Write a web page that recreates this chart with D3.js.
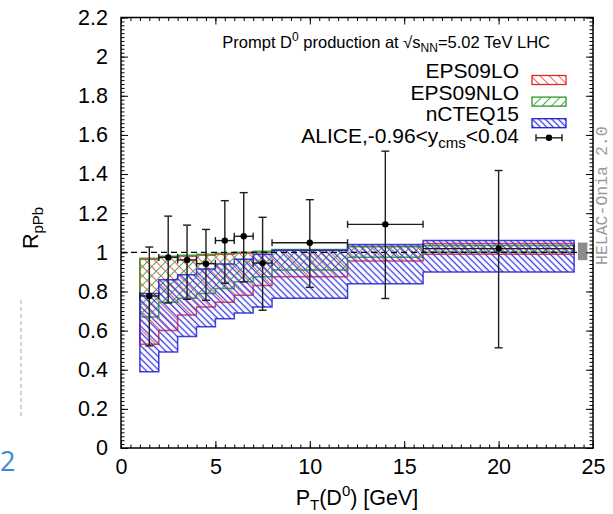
<!DOCTYPE html>
<html>
  <head>
    <meta charset="utf-8" />
    <title>RpPb prompt D0</title>
    <style>
      body {
        margin: 0;
        background: #fff;
      }
      svg text {
        font-family: "Liberation Sans", Arial, Helvetica, sans-serif;
        fill: #000;
      }
      .tick line {
        stroke: #000;
        stroke-width: 1;
      }
    </style>
  </head>
  <body>
    <div id="chart"></div>

    <script src="https://d3js.org/d3.v7.min.js"></script>
    <script>
      // theory histogram bin edges (GeV)
      var binEdges = [1, 2, 3, 4, 5, 6, 7, 8, 12, 16, 24];

      // EPS09LO band
      var eps09loLow = [0.53, 0.6, 0.68, 0.72, 0.745, 0.78, 0.83, 0.875, 0.955, 0.99];
      var eps09loHigh = [0.965, 0.975, 0.98, 0.985, 0.99, 0.995, 1.0, 1.01, 1.03, 1.045];

      // EPS09NLO band
      var eps09nloLow = [0.67, 0.745, 0.765, 0.79, 0.815, 0.85, 0.875, 0.91, 0.975, 1.0];
      var eps09nloHigh = [0.97, 0.98, 0.985, 0.99, 0.995, 1.0, 1.005, 1.015, 1.03, 1.035];

      // nCTEQ15 band
      var ncteqLow = [0.39, 0.49, 0.57, 0.62, 0.66, 0.69, 0.72, 0.765, 0.84, 0.9];
      var ncteqHigh = [0.79, 0.86, 0.885, 0.915, 0.94, 0.965, 0.99, 1.01, 1.04, 1.06];

      // ALICE data, -0.96<y<0.04
      var alicePt = [1.5, 2.5, 3.5, 4.5, 5.5, 6.5, 7.5, 10, 14, 20];
      var alicePtErr = [0.5, 0.5, 0.5, 0.5, 0.5, 0.5, 0.5, 2, 2, 4];
      var aliceR = [0.777, 0.974, 0.961, 0.942, 1.06, 1.082, 0.945, 1.049, 1.143, 1.019];
      var aliceUp = [1.027, 1.185, 1.139, 1.117, 1.264, 1.305, 1.179, 1.269, 1.517, 1.418];
      var aliceDown = [0.522, 0.741, 0.76, 0.755, 0.842, 0.849, 0.704, 0.821, 0.764, 0.512];

      // normalisation uncertainty box near pt=24.5
      var normBox = { x0: 24.2, x1: 24.7, lo: 0.96, hi: 1.05 };

      var xTicks = [0, 5, 10, 15, 20, 25];
      var yTicks = [0, 0.2, 0.4, 0.6, 0.8, 1, 1.2, 1.4, 1.6, 1.8, 2, 2.2];
      var legendNames = ["EPS09LO", "EPS09NLO", "nCTEQ15"];
      var legendColors = ["#e02828", "#2a9a2a", "#2020d8"];

      var W = 613,
        H = 514;
      var pLeft = 121,
        pRight = 593,
        pTop = 17.5,
        pBottom = 448;

      var x = d3.scaleLinear().domain([0, 25]).range([pLeft, pRight]);
      var y = d3.scaleLinear().domain([0, 2.2]).range([pBottom, pTop]);

      var svg = d3
        .select("#chart")
        .append("svg")
        .attr("width", W)
        .attr("height", H);

      // hatch patterns
      var defs = svg.append("defs");
      function hatch(id, color, gap, angle, sw) {
        var p = defs
          .append("pattern")
          .attr("id", id)
          .attr("patternUnits", "userSpaceOnUse")
          .attr("width", gap)
          .attr("height", gap)
          .attr("patternTransform", "rotate(" + angle + ")");
        p.append("line")
          .attr("x1", gap / 2)
          .attr("y1", -1)
          .attr("x2", gap / 2)
          .attr("y2", gap + 1)
          .attr("stroke", color)
          .attr("stroke-width", sw);
      }
      hatch("hLO", "#e85a5a", 6.5, -45, 1);
      hatch("hNLO", "#4aa84a", 6.5, 45, 1);
      hatch("hCT", "#3a3ae0", 4.6, -45, 1.3);
      var fills = ["url(#hLO)", "url(#hNLO)", "url(#hCT)"];

      // left margin leftovers
      svg
        .append("line")
        .attr("x1", 21)
        .attr("x2", 21)
        .attr("y1", 300)
        .attr("y2", 418)
        .attr("stroke", "#c8a0a0")
        .attr("stroke-width", 1)
        .attr("stroke-dasharray", "4,3");
      svg
        .append("text")
        .attr("x", 0)
        .attr("y", 471)
        .style("font-family", "'Open Sans', sans-serif")
        .style("font-size", "27px")
        .style("fill", "#3b8ad2")
        .text("2");

      // bands
      var line = d3
        .line()
        .x((d) => x(d[0]))
        .y((d) => y(d[1]));

      function bandPoints(lo, hi) {
        var pts = [];
        for (var i = 0; i < hi.length; i++) {
          pts.push([binEdges[i], hi[i]]);
          pts.push([binEdges[i + 1], hi[i]]);
        }
        for (var j = lo.length - 1; j >= 0; j--) {
          pts.push([binEdges[j + 1], lo[j]]);
          pts.push([binEdges[j], lo[j]]);
        }
        return pts;
      }

      var bands = [
        [eps09loLow, eps09loHigh],
        [eps09nloLow, eps09nloHigh],
        [ncteqLow, ncteqHigh],
      ];

      bands.forEach(function (b, i) {
        svg
          .append("path")
          .attr("d", line(bandPoints(b[0], b[1])) + "Z")
          .attr("fill", fills[i])
          .attr("stroke", legendColors[i])
          .attr("stroke-width", 1.5)
          .attr("stroke-opacity", 0.85);
      });

      // dashed line at 1
      svg
        .append("line")
        .attr("x1", x(0))
        .attr("x2", x(25))
        .attr("y1", y(1))
        .attr("y2", y(1))
        .attr("stroke", "#000")
        .attr("stroke-width", 1.2)
        .attr("stroke-dasharray", "6,4");

      // normalisation box
      svg
        .append("rect")
        .attr("x", x(normBox.x0))
        .attr("y", y(normBox.hi))
        .attr("width", x(normBox.x1) - x(normBox.x0))
        .attr("height", y(normBox.lo) - y(normBox.hi))
        .attr("fill", "#8c8c8c");

      // ALICE points
      var alice = alicePt.map(function (d, i) {
        return {
          pt: d,
          ex: alicePtErr[i],
          r: aliceR[i],
          up: aliceUp[i],
          down: aliceDown[i],
        };
      });

      var eb = svg
        .append("g")
        .attr("stroke", "#1e1e1e")
        .attr("stroke-width", 1.4);
      alice.forEach(function (d) {
        var cx = x(d.pt),
          cy = y(d.r);
        eb.append("line").attr("x1", cx).attr("x2", cx).attr("y1", y(d.up)).attr("y2", y(d.down));
        eb.append("line").attr("x1", cx - 4).attr("x2", cx + 4).attr("y1", y(d.up)).attr("y2", y(d.up));
        eb.append("line").attr("x1", cx - 4).attr("x2", cx + 4).attr("y1", y(d.down)).attr("y2", y(d.down));
        var x0 = x(d.pt - d.ex),
          x1 = x(d.pt + d.ex);
        eb.append("line").attr("x1", x0).attr("x2", x1).attr("y1", cy).attr("y2", cy);
        eb.append("line").attr("x1", x0).attr("x2", x0).attr("y1", cy - 3.5).attr("y2", cy + 3.5);
        eb.append("line").attr("x1", x1).attr("x2", x1).attr("y1", cy - 3.5).attr("y2", cy + 3.5);
      });
      svg
        .selectAll(".pt")
        .data(alice)
        .enter()
        .append("circle")
        .attr("class", "pt")
        .attr("cx", (d) => x(d.pt))
        .attr("cy", (d) => y(d.r))
        .attr("r", 3.2)
        .attr("fill", "#000");

      // axes: major + minor ticks on all four sides, inward
      var xMinor = d3.range(0, 25.01, 0.5);
      var yMinor = d3.range(0, 2.201, 0.02);

      function addAxis(axisFn, scale, pos, vals, size, fmt, cls) {
        var a = axisFn(scale).tickValues(vals).tickSize(-size);
        if (fmt) a.tickFormat(fmt).tickPadding(cls === "x" ? 11 : 13);
        else a.tickFormat("");
        var g = svg.append("g").attr("transform", pos).call(a);
        g.select(".domain").remove();
        return g;
      }

      addAxis(d3.axisBottom, x, "translate(0," + pBottom + ")", xMinor, 3.5, null);
      addAxis(d3.axisTop, x, "translate(0," + pTop + ")", xMinor, 3.5, null);
      addAxis(d3.axisLeft, y, "translate(" + pLeft + ",0)", yMinor, 3.5, null);
      addAxis(d3.axisRight, y, "translate(" + pRight + ",0)", yMinor, 3.5, null);
      addAxis(d3.axisTop, x, "translate(0," + pTop + ")", xTicks, 7, null);
      addAxis(d3.axisRight, y, "translate(" + pRight + ",0)", yTicks, 7, null);

      var gx = addAxis(d3.axisBottom, x, "translate(0," + pBottom + ")", xTicks, 7, d3.format("d"), "x");
      var gy = addAxis(d3.axisLeft, y, "translate(" + pLeft + ",0)", yTicks, 7, (d) => String(+d.toFixed(1)), "y");
      gx.selectAll("text").style("font-size", "21.5px").style("font-family", "'Liberation Sans', Arial, sans-serif").attr("fill", "#000");
      gy.selectAll("text").style("font-size", "21.5px").style("font-family", "'Liberation Sans', Arial, sans-serif").attr("fill", "#000");

      // frame
      svg
        .append("rect")
        .attr("x", pLeft)
        .attr("y", pTop)
        .attr("width", pRight - pLeft)
        .attr("height", pBottom - pTop)
        .attr("fill", "none")
        .attr("stroke", "#000")
        .attr("stroke-width", 1.5);

      // axis titles
      var xl = svg
        .append("text")
        .attr("x", (pLeft + pRight) / 2)
        .attr("y", 505)
        .attr("text-anchor", "middle")
        .style("font-size", "21.5px");
      xl.append("tspan").text("P");
      xl.append("tspan").attr("dy", 5).style("font-size", "15px").text("T");
      xl.append("tspan").attr("dy", -5).text("(D");
      xl.append("tspan").attr("dy", -9).style("font-size", "15px").text("0");
      xl.append("tspan").attr("dy", 9).text(") [GeV]");

      var yl = svg
        .append("text")
        .attr("transform", "translate(38,228) rotate(-90)")
        .attr("text-anchor", "middle")
        .style("font-size", "21.5px");
      yl.append("tspan").text("R");
      yl.append("tspan").attr("dy", 5).style("font-size", "15px").text("pPb");

      // title inside the frame
      var tt = svg
        .append("text")
        .attr("x", 550)
        .attr("y", 48)
        .attr("text-anchor", "end")
        .style("font-size", "16.5px");
      tt.append("tspan").text("Prompt D");
      tt.append("tspan").attr("dy", -7).style("font-size", "12px").text("0");
      tt.append("tspan").attr("dy", 7).text(" production at \u221As");
      tt.append("tspan").attr("dy", 4).style("font-size", "12px").text("NN");
      tt.append("tspan").attr("dy", -4).text("=5.02 TeV LHC");

      // legend
      var legY = [78, 99.6, 121.2, 142.8];
      legendNames.forEach(function (n, i) {
        svg
          .append("text")
          .attr("x", 519)
          .attr("y", legY[i])
          .attr("text-anchor", "end")
          .style("font-size", "21px")
          .text(n);
        svg
          .append("rect")
          .attr("x", 532)
          .attr("y", legY[i] - 2.5)
          .attr("width", 34)
          .attr("height", 9)
          .attr("fill", fills[i])
          .attr("stroke", legendColors[i])
          .attr("stroke-width", 1.3);
      });
      var la = svg
        .append("text")
        .attr("x", 519)
        .attr("y", legY[3])
        .attr("text-anchor", "end")
        .style("font-size", "21px");
      la.append("tspan").text("ALICE,-0.96<y");
      la.append("tspan").attr("dy", 5).style("font-size", "15px").text("cms");
      la.append("tspan").attr("dy", -5).text("<0.04");
      var ly = legY[3] - 5;
      var lg = svg.append("g").attr("stroke", "#1e1e1e").attr("stroke-width", 1.4);
      lg.append("line").attr("x1", 536).attr("x2", 562).attr("y1", ly).attr("y2", ly);
      lg.append("line").attr("x1", 536).attr("x2", 536).attr("y1", ly - 3.5).attr("y2", ly + 3.5);
      lg.append("line").attr("x1", 562).attr("x2", 562).attr("y1", ly - 3.5).attr("y2", ly + 3.5);
      svg.append("circle").attr("cx", 549).attr("cy", ly).attr("r", 3.2).attr("fill", "#000");

      // program tag on the right
      svg
        .append("text")
        .attr("transform", "translate(607,265) rotate(-90)")
        .style("font-family", "'Liberation Mono', 'DejaVu Sans Mono', monospace")
        .style("font-size", "16.5px")
        .style("fill", "#9a9a9a")
        .text("HELAC-Onia 2.0");
    </script>
  </body>
</html>
